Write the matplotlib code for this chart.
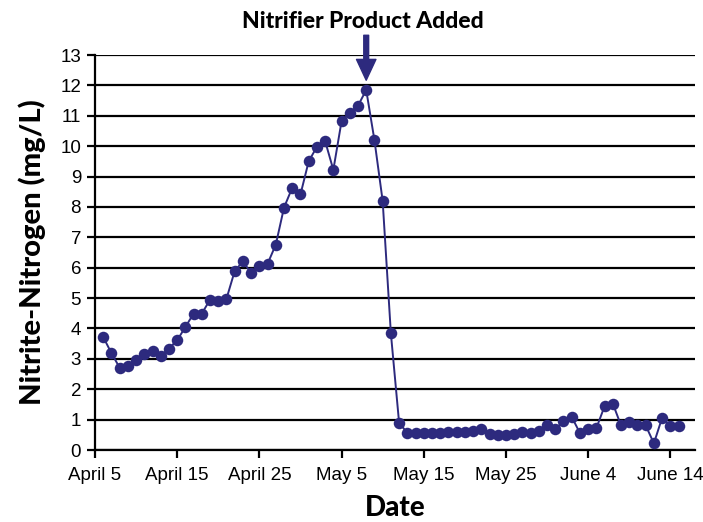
import numpy as np
import matplotlib
matplotlib.use("Agg")
import matplotlib.pyplot as plt

# Data: daily readings from April 6 to June 15
start_date = "2008-04-06"
nitrite = [3.72, 3.19, 2.71, 2.76, 2.95, 3.15, 3.26, 3.09, 3.34, 3.61,
           4.05, 4.49, 4.49, 4.95, 4.90, 4.98, 5.89, 6.21, 5.82, 6.07,
           6.13, 6.76, 7.98, 8.63, 8.41, 9.50, 9.98, 10.17, 9.22, 10.82,
           11.10, 11.33, 11.85, 10.20, 8.20, 3.84, 0.90, 0.56, 0.56, 0.55,
           0.57, 0.56, 0.58, 0.59, 0.58, 0.62, 0.70, 0.52, 0.50, 0.50,
           0.52, 0.58, 0.57, 0.62, 0.83, 0.69, 0.94, 1.09, 0.56, 0.69,
           0.72, 1.44, 1.53, 0.81, 0.91, 0.83, 0.81, 0.22, 1.06, 0.78, 0.78]
dates = np.arange(np.datetime64(start_date), np.datetime64(start_date) + len(nitrite))

tick_dates = ["2008-04-05", "2008-04-15", "2008-04-25", "2008-05-05",
              "2008-05-15", "2008-05-25", "2008-06-04", "2008-06-14"]
tick_labels = ["April 5", "April 15", "April 25", "May 5",
               "May 15", "May 25", "June 4", "June 14"]
peak_date = "2008-05-08"
annotation = "Nitrifier Product Added"

color = "#2d2a7e"

fig = plt.figure(figsize=(7.03, 5.22), dpi=100)
ax = fig.add_axes([0.1351, 0.1379, 0.8535, 0.7567])

ax.plot(dates, nitrite, color=color, lw=1.4, marker="o", ms=8.3,
        markeredgewidth=0, zorder=3)

ax.set_ylim(0, 13)
ax.set_yticks(range(0, 14))
ax.set_xlim(np.datetime64("2008-04-05"), np.datetime64("2008-04-05") + np.timedelta64(1, "D") * 73.8)
ax.set_xticks([np.datetime64(d) for d in tick_dates])
ax.set_xticklabels(tick_labels)

ax.grid(axis="y", color="black", lw=1.6, zorder=1)
ax.set_axisbelow(True)
for s in ["top", "right"]:
    ax.spines[s].set_visible(False)
for s in ["left", "bottom"]:
    ax.spines[s].set_linewidth(1.6)
    ax.spines[s].set_zorder(2)

ax.tick_params(axis="both", direction="out", length=6, width=1.6,
               labelsize=13.5, pad=4)
for lab in ax.get_xticklabels() + ax.get_yticklabels():
    lab.set_fontfamily("Liberation Sans")
ax.tick_params(axis="x", pad=6)

ax.set_ylabel("Nitrite-Nitrogen (mg/L)", fontfamily="Lato", fontweight="black",
              fontsize=21, labelpad=10)
ax.set_xlabel("Date", fontfamily="Lato", fontweight="black", fontsize=20, labelpad=8)

pk = np.datetime64(peak_date)
ax.annotate("", xy=(pk, 12.17), xytext=(pk, 13.65),
            arrowprops=dict(facecolor=color, edgecolor=color, width=3.5,
                            headwidth=14, headlength=15, shrink=0),
            annotation_clip=False, zorder=4)
fig.text(0.516, 0.958, annotation, ha="center", va="center",
         fontfamily="Lato", fontweight="black", fontsize=16.5)

fig.savefig("out.png", dpi=100)
